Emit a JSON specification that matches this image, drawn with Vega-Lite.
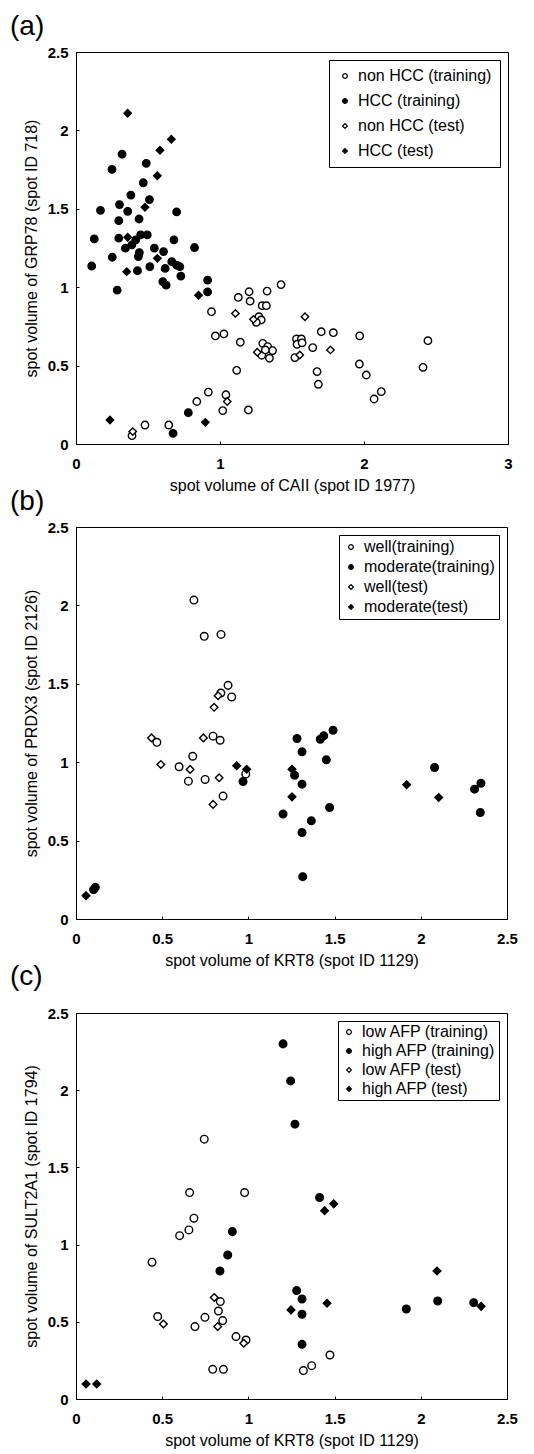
{
  "$schema": "https://vega.github.io/schema/vega-lite/v6.json",
  "background": "white",
  "padding": {"left": 9, "top": 12, "right": 2, "bottom": 2},
  "spacing": -7,
  "resolve": {"scale": {"shape": "independent", "color": "independent"}, "legend": {"shape": "independent", "color": "independent"}},
  "config": {
    "font": "Liberation Sans",
    "view": {"stroke": "black", "strokeWidth": 1},
    "axis": {
      "grid": false,
      "domainColor": "black",
      "tickColor": "black",
      "tickSize": -3,
      "labelFont": "Liberation Sans",
      "labelFontSize": 15,
      "labelFontWeight": "bold",
      "labelColor": "black",
      "labelFlush": false,
      "labelOverlap": false,
      "labelExpr": "'' + datum.value",
      "titleFont": "Liberation Sans",
      "titleFontSize": 16,
      "titleFontWeight": "normal",
      "titleColor": "black"
    },
    "axisX": {"labelPadding": 15, "titlePadding": 6},
    "axisY": {"labelPadding": 11, "titlePadding": 8},
    "title": {"anchor": "start", "frame": "group", "fontSize": 28, "fontWeight": "normal", "font": "Liberation Sans", "color": "black"},
    "legend": {
      "orient": "top-right",
      "offset": 8,
      "labelFont": "Liberation Sans",
      "labelFontSize": 16,
      "labelColor": "black",
      "symbolSize": 22,
      "symbolStrokeColor": "black",
      "symbolStrokeWidth": 1.2,
      "strokeColor": "black",
      "fillColor": "white",
      "labelOffset": 5
    }
  },
  "vconcat": [
    {
      "width": 432,
      "height": 392,
      "title": {"text": "(a)", "dx": -66},
      "data": {"values": [
        {"x":1.424,"y":1.017,"g":"non HCC (training)"},{"x":1.202,"y":0.971,"g":"non HCC (training)"},{"x":1.327,"y":0.975,"g":"non HCC (training)"},{"x":1.127,"y":0.935,"g":"non HCC (training)"},{"x":1.209,"y":0.911,"g":"non HCC (training)"},{"x":1.293,"y":0.882,"g":"non HCC (training)"},{"x":1.322,"y":0.882,"g":"non HCC (training)"},{"x":0.941,"y":0.844,"g":"non HCC (training)"},{"x":1.27,"y":0.812,"g":"non HCC (training)"},{"x":1.286,"y":0.791,"g":"non HCC (training)"},{"x":1.252,"y":0.776,"g":"non HCC (training)"},{"x":0.968,"y":0.689,"g":"non HCC (training)"},{"x":1.027,"y":0.702,"g":"non HCC (training)"},{"x":1.141,"y":0.649,"g":"non HCC (training)"},{"x":1.297,"y":0.642,"g":"non HCC (training)"},{"x":1.331,"y":0.621,"g":"non HCC (training)"},{"x":1.365,"y":0.596,"g":"non HCC (training)"},{"x":1.29,"y":0.566,"g":"non HCC (training)"},{"x":1.343,"y":0.547,"g":"non HCC (training)"},{"x":1.315,"y":0.6,"g":"non HCC (training)"},{"x":1.531,"y":0.67,"g":"non HCC (training)"},{"x":1.565,"y":0.67,"g":"non HCC (training)"},{"x":1.535,"y":0.636,"g":"non HCC (training)"},{"x":1.57,"y":0.645,"g":"non HCC (training)"},{"x":1.644,"y":0.615,"g":"non HCC (training)"},{"x":1.703,"y":0.716,"g":"non HCC (training)"},{"x":1.787,"y":0.71,"g":"non HCC (training)"},{"x":1.52,"y":0.551,"g":"non HCC (training)"},{"x":1.674,"y":0.462,"g":"non HCC (training)"},{"x":1.683,"y":0.381,"g":"non HCC (training)"},{"x":1.116,"y":0.47,"g":"non HCC (training)"},{"x":0.919,"y":0.331,"g":"non HCC (training)"},{"x":1.041,"y":0.314,"g":"non HCC (training)"},{"x":0.839,"y":0.271,"g":"non HCC (training)"},{"x":1.97,"y":0.69,"g":"non HCC (training)"},{"x":1.968,"y":0.51,"g":"non HCC (training)"},{"x":2.016,"y":0.44,"g":"non HCC (training)"},{"x":2.07,"y":0.287,"g":"non HCC (training)"},{"x":2.12,"y":0.334,"g":"non HCC (training)"},{"x":2.41,"y":0.489,"g":"non HCC (training)"},{"x":2.444,"y":0.659,"g":"non HCC (training)"},{"x":1.019,"y":0.213,"g":"non HCC (training)"},{"x":1.197,"y":0.217,"g":"non HCC (training)"},{"x":0.479,"y":0.121,"g":"non HCC (training)"},{"x":0.644,"y":0.121,"g":"non HCC (training)"},{"x":0.389,"y":0.053,"g":"non HCC (training)"},
        {"x":0.32,"y":1.848,"g":"HCC (training)"},{"x":0.25,"y":1.751,"g":"HCC (training)"},{"x":0.488,"y":1.79,"g":"HCC (training)"},{"x":0.467,"y":1.666,"g":"HCC (training)"},{"x":0.381,"y":1.587,"g":"HCC (training)"},{"x":0.17,"y":1.49,"g":"HCC (training)"},{"x":0.302,"y":1.527,"g":"HCC (training)"},{"x":0.359,"y":1.484,"g":"HCC (training)"},{"x":0.297,"y":1.424,"g":"HCC (training)"},{"x":0.438,"y":1.435,"g":"HCC (training)"},{"x":0.699,"y":1.48,"g":"HCC (training)"},{"x":0.127,"y":1.308,"g":"HCC (training)"},{"x":0.297,"y":1.313,"g":"HCC (training)"},{"x":0.449,"y":1.334,"g":"HCC (training)"},{"x":0.495,"y":1.334,"g":"HCC (training)"},{"x":0.415,"y":1.302,"g":"HCC (training)"},{"x":0.388,"y":1.27,"g":"HCC (training)"},{"x":0.343,"y":1.249,"g":"HCC (training)"},{"x":0.433,"y":1.195,"g":"HCC (training)"},{"x":0.44,"y":1.221,"g":"HCC (training)"},{"x":0.68,"y":1.302,"g":"HCC (training)"},{"x":0.252,"y":1.191,"g":"HCC (training)"},{"x":0.544,"y":1.249,"g":"HCC (training)"},{"x":0.608,"y":1.227,"g":"HCC (training)"},{"x":0.823,"y":1.253,"g":"HCC (training)"},{"x":0.109,"y":1.135,"g":"HCC (training)"},{"x":0.427,"y":1.105,"g":"HCC (training)"},{"x":0.513,"y":1.131,"g":"HCC (training)"},{"x":0.619,"y":1.12,"g":"HCC (training)"},{"x":0.665,"y":1.163,"g":"HCC (training)"},{"x":0.699,"y":1.141,"g":"HCC (training)"},{"x":0.721,"y":1.131,"g":"HCC (training)"},{"x":0.728,"y":1.071,"g":"HCC (training)"},{"x":0.603,"y":1.035,"g":"HCC (training)"},{"x":0.626,"y":1.013,"g":"HCC (training)"},{"x":0.286,"y":0.981,"g":"HCC (training)"},{"x":0.914,"y":1.045,"g":"HCC (training)"},{"x":0.914,"y":0.97,"g":"HCC (training)"},{"x":0.51,"y":1.559,"g":"HCC (training)"},{"x":0.78,"y":0.2,"g":"HCC (training)"},{"x":0.674,"y":0.068,"g":"HCC (training)"},
        {"x":1.107,"y":0.833,"g":"non HCC (test)"},{"x":1.232,"y":0.795,"g":"non HCC (test)"},{"x":1.59,"y":0.812,"g":"non HCC (test)"},{"x":1.259,"y":0.585,"g":"non HCC (test)"},{"x":1.767,"y":0.6,"g":"non HCC (test)"},{"x":1.554,"y":0.568,"g":"non HCC (test)"},{"x":1.05,"y":0.271,"g":"non HCC (test)"},{"x":0.394,"y":0.079,"g":"non HCC (test)"},
        {"x":0.359,"y":2.109,"g":"HCC (test)"},{"x":0.662,"y":1.944,"g":"HCC (test)"},{"x":0.583,"y":1.873,"g":"HCC (test)"},{"x":0.565,"y":1.711,"g":"HCC (test)"},{"x":0.479,"y":1.51,"g":"HCC (test)"},{"x":0.359,"y":1.319,"g":"HCC (test)"},{"x":0.352,"y":1.099,"g":"HCC (test)"},{"x":0.565,"y":1.184,"g":"HCC (test)"},{"x":0.851,"y":0.949,"g":"HCC (test)"},{"x":0.236,"y":0.153,"g":"HCC (test)"},{"x":0.898,"y":0.138,"g":"HCC (test)"}
      ]},
      "mark": {"type": "point", "filled": true, "stroke": "black", "strokeWidth": 1.4, "opacity": 1, "size": 55},
      "encoding": {
        "x": {"field": "x", "type": "quantitative", "scale": {"domain": [0, 3], "nice": false}, "axis": {"values": [0, 1, 2, 3], "title": "spot volume of CAII (spot ID 1977)"}},
        "y": {"field": "y", "type": "quantitative", "scale": {"domain": [0, 2.5], "nice": false}, "axis": {"values": [0, 0.5, 1, 1.5, 2, 2.5], "title": "spot volume of GRP78 (spot ID 718)"}},
        "shape": {"field": "g", "type": "nominal", "scale": {"domain": ["non HCC (training)", "HCC (training)", "non HCC (test)", "HCC (test)"], "range": ["circle", "circle", "diamond", "diamond"]}, "legend": {"title": null, "orient": "top-right", "offset": 8, "padding": 8, "rowPadding": 9, "symbolStrokeColor": "black"}},
        "color": {"field": "g", "type": "nominal", "scale": {"domain": ["non HCC (training)", "HCC (training)", "non HCC (test)", "HCC (test)"], "range": ["white", "black", "white", "black"]}, "legend": {"title": null, "orient": "top-right", "offset": 8, "padding": 8, "rowPadding": 9, "symbolStrokeColor": "black"}}
      }
    },
    {
      "width": 431,
      "height": 392,
      "title": {"text": "(b)", "dx": -66},
      "data": {"values": [
        {"x":0.684,"y":2.034,"g":"well(training)"},{"x":0.744,"y":1.803,"g":"well(training)"},{"x":0.841,"y":1.815,"g":"well(training)"},{"x":0.882,"y":1.49,"g":"well(training)"},{"x":0.903,"y":1.416,"g":"well(training)"},{"x":0.84,"y":1.441,"g":"well(training)"},{"x":0.469,"y":1.127,"g":"well(training)"},{"x":0.795,"y":1.166,"g":"well(training)"},{"x":0.836,"y":1.14,"g":"well(training)"},{"x":0.677,"y":1.038,"g":"well(training)"},{"x":0.598,"y":0.971,"g":"well(training)"},{"x":0.652,"y":0.879,"g":"well(training)"},{"x":0.749,"y":0.89,"g":"well(training)"},{"x":0.853,"y":0.784,"g":"well(training)"},{"x":0.985,"y":0.925,"g":"well(training)"},
        {"x":1.282,"y":1.151,"g":"moderate(training)"},{"x":1.311,"y":1.066,"g":"moderate(training)"},{"x":1.268,"y":0.917,"g":"moderate(training)"},{"x":1.311,"y":0.86,"g":"moderate(training)"},{"x":1.201,"y":0.669,"g":"moderate(training)"},{"x":1.365,"y":0.626,"g":"moderate(training)"},{"x":1.311,"y":0.552,"g":"moderate(training)"},{"x":1.315,"y":0.27,"g":"moderate(training)"},{"x":1.417,"y":1.146,"g":"moderate(training)"},{"x":1.437,"y":1.168,"g":"moderate(training)"},{"x":1.491,"y":1.204,"g":"moderate(training)"},{"x":1.452,"y":1.015,"g":"moderate(training)"},{"x":1.471,"y":0.711,"g":"moderate(training)"},{"x":2.08,"y":0.966,"g":"moderate(training)"},{"x":2.312,"y":0.828,"g":"moderate(training)"},{"x":2.349,"y":0.866,"g":"moderate(training)"},{"x":2.345,"y":0.679,"g":"moderate(training)"},{"x":0.112,"y":0.202,"g":"moderate(training)"},{"x":0.102,"y":0.187,"g":"moderate(training)"},{"x":0.969,"y":0.877,"g":"moderate(training)"},
        {"x":0.824,"y":1.424,"g":"well(test)"},{"x":0.801,"y":1.35,"g":"well(test)"},{"x":0.438,"y":1.155,"g":"well(test)"},{"x":0.739,"y":1.155,"g":"well(test)"},{"x":0.492,"y":0.985,"g":"well(test)"},{"x":0.662,"y":0.954,"g":"well(test)"},{"x":0.83,"y":0.901,"g":"well(test)"},{"x":0.795,"y":0.731,"g":"well(test)"},
        {"x":0.932,"y":0.977,"g":"moderate(test)"},{"x":0.99,"y":0.955,"g":"moderate(test)"},{"x":1.253,"y":0.955,"g":"moderate(test)"},{"x":1.253,"y":0.779,"g":"moderate(test)"},{"x":1.918,"y":0.856,"g":"moderate(test)"},{"x":2.104,"y":0.775,"g":"moderate(test)"},{"x":0.058,"y":0.149,"g":"moderate(test)"}
      ]},
      "mark": {"type": "point", "filled": true, "stroke": "black", "strokeWidth": 1.4, "opacity": 1, "size": 58},
      "encoding": {
        "x": {"field": "x", "type": "quantitative", "scale": {"domain": [0, 2.5], "nice": false}, "axis": {"values": [0, 0.5, 1, 1.5, 2, 2.5], "title": "spot volume of KRT8 (spot ID 1129)"}},
        "y": {"field": "y", "type": "quantitative", "scale": {"domain": [0, 2.5], "nice": false}, "axis": {"values": [0, 0.5, 1, 1.5, 2, 2.5], "title": "spot volume of PRDX3 (spot ID 2126)"}},
        "shape": {"field": "g", "type": "nominal", "scale": {"domain": ["well(training)", "moderate(training)", "well(test)", "moderate(test)"], "range": ["circle", "circle", "diamond", "diamond"]}, "legend": {"title": null, "orient": "top-right", "offset": 8, "padding": 4, "rowPadding": 4, "symbolStrokeColor": "black"}},
        "color": {"field": "g", "type": "nominal", "scale": {"domain": ["well(training)", "moderate(training)", "well(test)", "moderate(test)"], "range": ["white", "black", "white", "black"]}, "legend": {"title": null, "orient": "top-right", "offset": 8, "padding": 4, "rowPadding": 4, "symbolStrokeColor": "black"}}
      }
    },
    {
      "width": 431,
      "height": 386,
      "title": {"text": "(c)", "dx": -66, "offset": 15},
      "data": {"values": [
        {"x":0.744,"y":1.683,"g":"low AFP (training)"},{"x":0.659,"y":1.337,"g":"low AFP (training)"},{"x":0.978,"y":1.337,"g":"low AFP (training)"},{"x":0.684,"y":1.171,"g":"low AFP (training)"},{"x":0.655,"y":1.095,"g":"low AFP (training)"},{"x":0.601,"y":1.058,"g":"low AFP (training)"},{"x":0.441,"y":0.886,"g":"low AFP (training)"},{"x":0.474,"y":0.534,"g":"low AFP (training)"},{"x":0.748,"y":0.529,"g":"low AFP (training)"},{"x":0.69,"y":0.469,"g":"low AFP (training)"},{"x":0.928,"y":0.404,"g":"low AFP (training)"},{"x":0.986,"y":0.382,"g":"low AFP (training)"},{"x":0.793,"y":0.192,"g":"low AFP (training)"},{"x":0.855,"y":0.192,"g":"low AFP (training)"},{"x":1.319,"y":0.184,"g":"low AFP (training)"},{"x":1.367,"y":0.216,"g":"low AFP (training)"},{"x":1.473,"y":0.285,"g":"low AFP (training)"},{"x":0.837,"y":0.631,"g":"low AFP (training)"},{"x":0.826,"y":0.57,"g":"low AFP (training)"},{"x":0.851,"y":0.508,"g":"low AFP (training)"},
        {"x":1.201,"y":2.3,"g":"high AFP (training)"},{"x":1.245,"y":2.06,"g":"high AFP (training)"},{"x":1.27,"y":1.78,"g":"high AFP (training)"},{"x":1.413,"y":1.305,"g":"high AFP (training)"},{"x":0.907,"y":1.084,"g":"high AFP (training)"},{"x":0.88,"y":0.933,"g":"high AFP (training)"},{"x":0.835,"y":0.829,"g":"high AFP (training)"},{"x":1.28,"y":0.702,"g":"high AFP (training)"},{"x":1.311,"y":0.648,"g":"high AFP (training)"},{"x":1.311,"y":0.549,"g":"high AFP (training)"},{"x":1.311,"y":0.354,"g":"high AFP (training)"},{"x":1.916,"y":0.583,"g":"high AFP (training)"},{"x":2.098,"y":0.635,"g":"high AFP (training)"},{"x":2.307,"y":0.624,"g":"high AFP (training)"},
        {"x":0.507,"y":0.486,"g":"low AFP (test)"},{"x":0.802,"y":0.657,"g":"low AFP (test)"},{"x":0.822,"y":0.469,"g":"low AFP (test)"},{"x":0.973,"y":0.361,"g":"low AFP (test)"},
        {"x":1.442,"y":1.22,"g":"high AFP (test)"},{"x":1.495,"y":1.264,"g":"high AFP (test)"},{"x":1.247,"y":0.577,"g":"high AFP (test)"},{"x":1.456,"y":0.62,"g":"high AFP (test)"},{"x":2.094,"y":0.829,"g":"high AFP (test)"},{"x":2.35,"y":0.6,"g":"high AFP (test)"},{"x":0.058,"y":0.097,"g":"high AFP (test)"},{"x":0.12,"y":0.097,"g":"high AFP (test)"}
      ]},
      "mark": {"type": "point", "filled": true, "stroke": "black", "strokeWidth": 1.4, "opacity": 1, "size": 58},
      "encoding": {
        "x": {"field": "x", "type": "quantitative", "scale": {"domain": [0, 2.5], "nice": false}, "axis": {"values": [0, 0.5, 1, 1.5, 2, 2.5], "title": "spot volume of KRT8 (spot ID 1129)"}},
        "y": {"field": "y", "type": "quantitative", "scale": {"domain": [0, 2.5], "nice": false}, "axis": {"values": [0, 0.5, 1, 1.5, 2, 2.5], "title": "spot volume of SULT2A1 (spot ID 1794)"}},
        "shape": {"field": "g", "type": "nominal", "scale": {"domain": ["low AFP (training)", "high AFP (training)", "low AFP (test)", "high AFP (test)"], "range": ["circle", "circle", "diamond", "diamond"]}, "legend": {"title": null, "orient": "top-right", "offset": 8, "padding": 3, "rowPadding": 3, "symbolStrokeColor": "black"}},
        "color": {"field": "g", "type": "nominal", "scale": {"domain": ["low AFP (training)", "high AFP (training)", "low AFP (test)", "high AFP (test)"], "range": ["white", "black", "white", "black"]}, "legend": {"title": null, "orient": "top-right", "offset": 8, "padding": 3, "rowPadding": 3, "symbolStrokeColor": "black"}}
      }
    }
  ]
}
